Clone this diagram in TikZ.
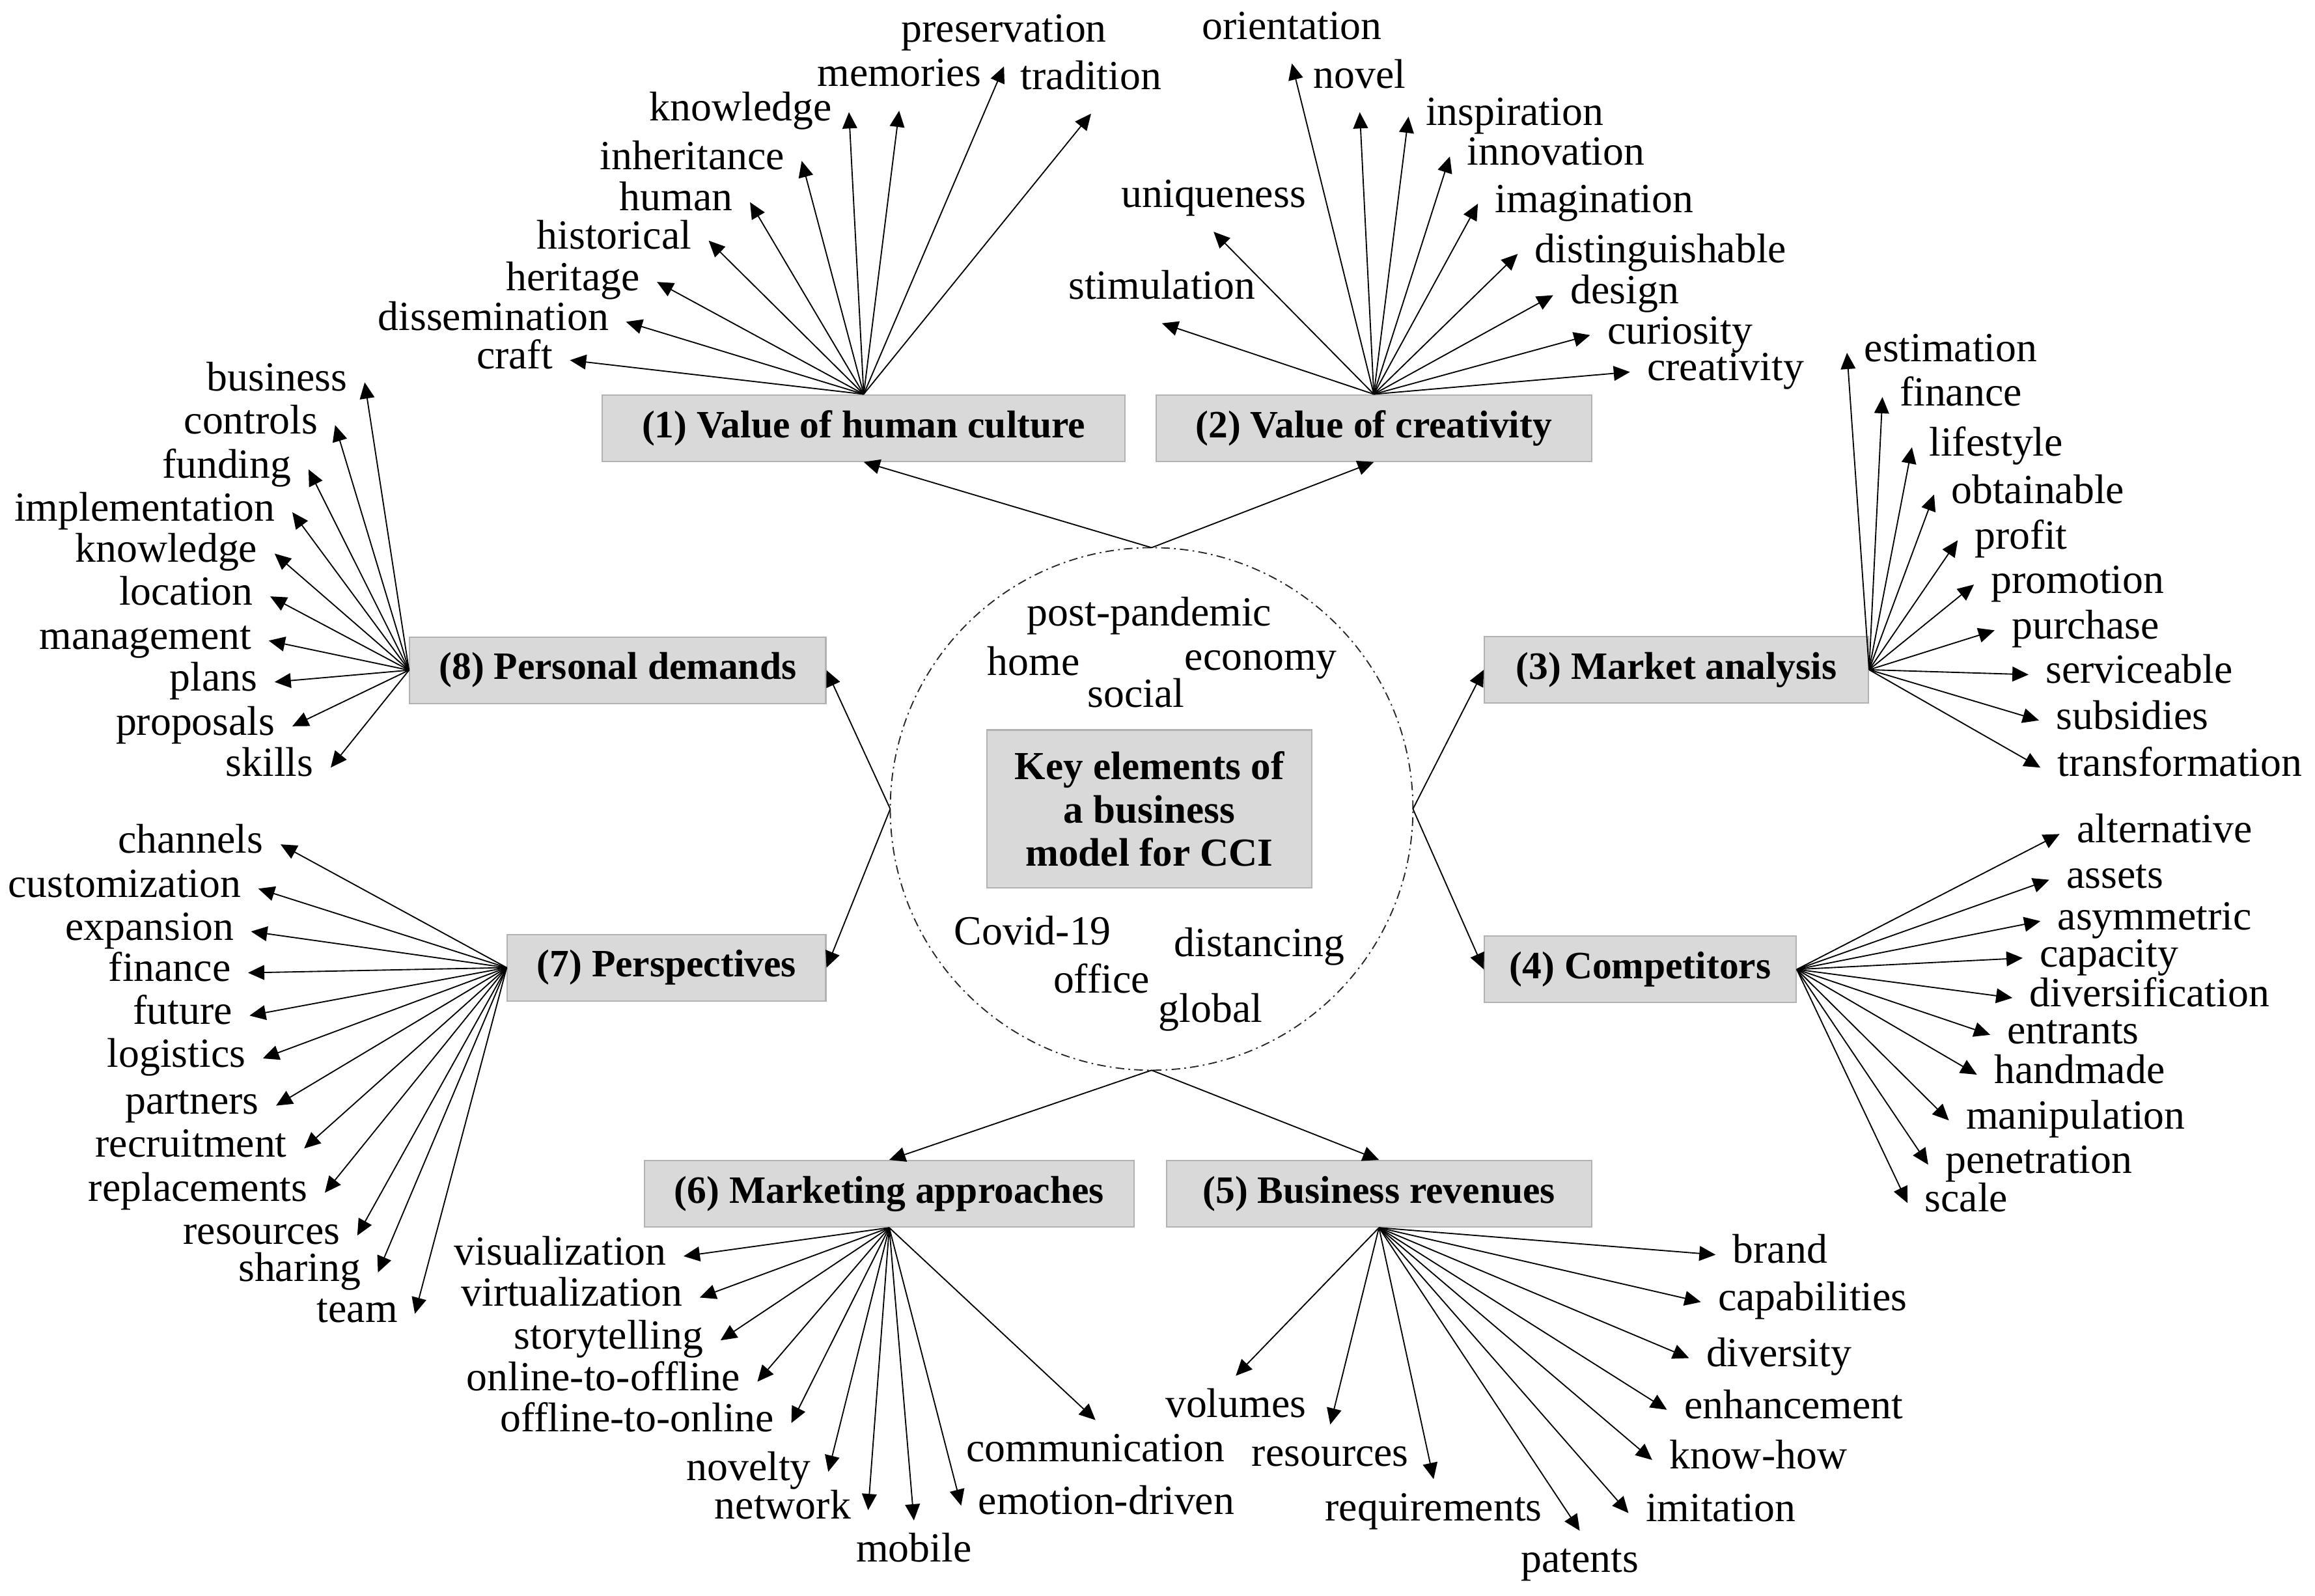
\documentclass[tikz,border=0pt]{standalone}
\usepackage{fontspec}
\setmainfont{Liberation Serif}
\usetikzlibrary{arrows.meta}
\definecolor{boxfill}{RGB}{217,217,217}
\definecolor{boxedge}{RGB}{178,178,178}
\newcommand{\drawfan}[3]{%
  \foreach \tx/\ty/\anc/\lab [count=\n] in {#3} {
    \coordinate (#2-\n) at (\tx,\ty);
    \node[lbl,anchor=\anc] (#2-l\n) at (#2-\n) {\lab};
    \draw[arr] (#1) -- (#2-\n);
  }}

\begin{document}
\begin{tikzpicture}[x=0.015cm,y=-0.015cm,
  lbl/.style={font=\fontsize{12}{14}\selectfont,inner sep=0pt,outer sep=5pt,text height=7pt,text depth=2pt},
  word/.style={font=\fontsize{12}{14}\selectfont,inner sep=0pt,anchor=base},
  box/.style={draw=boxedge,fill=boxfill,line width=0.4pt,minimum height=0.675cm,inner sep=0pt,font=\fontsize{11.2}{13}\selectfont\bfseries},
  arr/.style={-{Triangle[length=0.165cm,width=0.15cm]},line width=0.35pt}]
  \useasboundingbox (0,0) rectangle (1568,1081);
  % centre
  \node[draw=black!85,circle,inner sep=0pt,outer sep=0pt,minimum size=5.31cm,line width=0.35pt,
        dash pattern=on 2.5pt off 1.2pt on 0.5pt off 1.2pt] (ring) at (780,548) {};
  \node[box,minimum width=3.3cm,minimum height=1.605cm,align=center,font=\fontsize{11.5}{12.6}\selectfont\bfseries]
    (key) at (778.5,548) {Key elements of\\a business\\model for CCI};
  \node[word] (w1) at (778.5,424) {post-pandemic};
  \node[word] (w2) at (700,457.5) {home};
  \node[word] (w3) at (854,454) {economy};
  \node[word] (w4) at (769.5,479) {social};
  \node[word] (w5) at (699.5,640) {Covid-19};
  \node[word] (w6) at (853,648) {distancing};
  \node[word] (w7) at (746,672.5) {office};
  \node[word] (w8) at (820,692.5) {global};
  % eight elements
  \node[box,minimum width=5.31cm] (b1) at (585,290) {(1) Value of human culture};
  \node[box,minimum width=4.425cm] (b2) at (930.5,290) {(2) Value of creativity};
  \node[box,minimum width=3.9cm] (b3) at (1135.5,453.7) {(3) Market analysis};
  \node[box,minimum width=3.165cm] (b4) at (1111,656.7) {(4) Competitors};
  \node[box,minimum width=4.32cm] (b5) at (934,808.7) {(5) Business revenues};
  \node[box,minimum width=4.97cm] (b6) at (602.3,808.7) {(6) Marketing approaches};
  \node[box,minimum width=3.235cm] (b7) at (451.5,655.5) {(7) Perspectives};
  \node[box,minimum width=4.227cm] (b8) at (418.4,454) {(8) Personal demands};
  \draw[arr] (ring.north) -- (b1.south);
  \draw[arr] (ring.north) -- (b2.south);
  \draw[arr] (ring.east) -- (b3.west);
  \draw[arr] (ring.east) -- (b4.west);
  \draw[arr] (ring.south) -- (b5.north);
  \draw[arr] (ring.south) -- (b6.north);
  \draw[arr] (ring.west) -- (b7.east);
  \draw[arr] (ring.west) -- (b8.east);
  % keyword fans
  \drawfan{b1.north}{fa}{386/244/east/craft,
    424/218/east/dissemination,
    445/191/east/heritage,
    480/163/east/historical,
    508/137/east/human,
    543/109/east/inheritance,
    575/76/east/knowledge,
    609/75/south/memories,
    680/45/south/preservation,
    739/77/south/tradition}
  \drawfan{b2.north}{fb}{787/219/south/stimulation,
    822/157/south/uniqueness,
    875/43/south/orientation,
    921/76/south/novel,
    954/79/west/inspiration,
    982/106/west/innovation,
    1001/138/west/imagination,
    1028/172/west/distinguishable,
    1052/200/west/design,
    1077/227/west/curiosity,
    1104/252/west/creativity}
  \drawfan{b3.east}{fc}{1251/239/west/estimation,
    1275/269/west/finance,
    1295/303/west/lifestyle,
    1310/335/west/obtainable,
    1326/366/west/profit,
    1337/396/west/promotion,
    1351/427/west/purchase,
    1374/457/west/serviceable,
    1381/488/west/subsidies,
    1382/520/west/transformation}
  \drawfan{b4.east}{fd}{1395/565/west/alternative,
    1388/596/west/assets,
    1382/624/west/asymmetric,
    1370/649/west/capacity,
    1363/676/west/diversification,
    1348/701/west/entrants,
    1339/728/west/handmade,
    1320/759/west/manipulation,
    1306/789/west/penetration,
    1292/815/west/scale}
  \drawfan{b5.south}{fe}{1162/850/west/brand,
    1152/882/west/capabilities,
    1144/920/west/diversity,
    1129/955/west/enhancement,
    1119/989/west/know-how,
    1103/1025/west/imitation,
    1070/1037/north/patents,
    971/1002/north/requirements,
    901/965/north/resources,
    837/932/north/volumes}
  \drawfan{b6.south}{ff}{463/851/east/visualization,
    474/879/east/virtualization,
    488/908/east/storytelling,
    513/936/east/online-to-offline,
    536/964/east/offline-to-online,
    561/997/east/novelty,
    588/1023/east/network,
    619/1030/north/mobile,
    651/1020/west/emotion-driven,
    742/962/north/communication}
  \drawfan{b7.west}{fg}{190/572/east/channels,
    175/602/east/customization,
    170/631/east/expansion,
    168/659/east/finance,
    169/688/east/future,
    178/717/east/logistics,
    187/749/east/partners,
    206/778/east/recruitment,
    220/808/east/replacements,
    242/837/east/resources,
    256/862/east/sharing,
    281/890/east/team}
  \drawfan{b8.west}{fh}{247/259/east/business,
    227/288/east/controls,
    209/318/east/funding,
    198/347/east/implementation,
    186/375/east/knowledge,
    183/404/east/location,
    182/434/east/management,
    186/462/east/plans,
    198/492/east/proposals,
    224/520/east/skills}
\end{tikzpicture}
\end{document}
